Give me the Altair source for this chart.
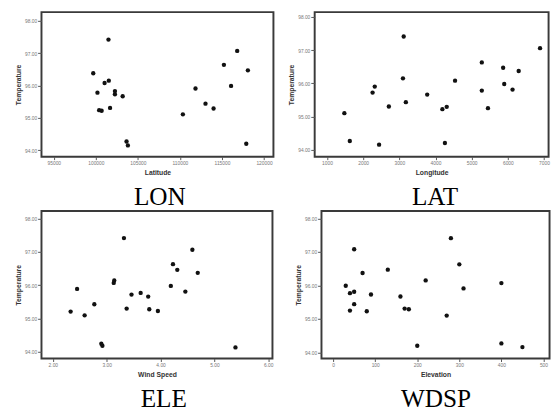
import altair as alt
import pandas as pd

temp_ticks = [94, 95, 96, 97, 98]

# Panel "LON" (x axis titled Latitude)
lat_vals = [99690, 100190, 100390, 100690, 101040, 101540, 101500, 101690, 102270, 102270, 103190,
            103650, 103810, 110350, 111850, 113040, 114000, 115230, 116080, 116810, 117890, 118080]
lat_temp = [96.38, 95.78, 95.24, 95.22, 96.08, 96.15, 97.42, 95.31, 95.83, 95.73, 95.67,
            94.27, 94.15, 95.11, 95.91, 95.44, 95.29, 96.64, 95.99, 97.07, 94.20, 96.47]
lat_ticks = [95000, 100000, 105000, 110000, 115000, 120000]

# Panel "LAT" (x axis titled Longitude)
lon_vals = [1480, 1630, 2260, 2320, 2440, 2710, 3100, 3120, 3180, 3770, 4190,
            4260, 4310, 4540, 5280, 5280, 5450, 5870, 5900, 6130, 6300, 6890]
lon_temp = [95.10, 94.26, 95.72, 95.90, 94.15, 95.30, 96.15, 97.41, 95.43, 95.66, 95.22,
            94.20, 95.29, 96.08, 96.63, 95.78, 95.25, 96.47, 95.98, 95.81, 96.37, 97.06]
lon_ticks = [1000, 2000, 3000, 4000, 5000, 6000, 7000]

# Panel "ELE" (x axis titled Wind Speed)
ws_vals = [2.33, 2.45, 2.59, 2.77, 2.90, 2.92, 3.13, 3.14, 3.32, 3.37, 3.46,
           3.63, 3.77, 3.79, 3.95, 4.19, 4.23, 4.31, 4.46, 4.59, 4.69, 5.39]
ws_temp = [95.21, 95.89, 95.10, 95.43, 94.25, 94.19, 96.07, 96.14, 97.41, 95.30, 95.72,
           95.77, 95.66, 95.28, 95.23, 95.98, 96.63, 96.46, 95.81, 97.06, 96.37, 94.14]
ws_ticks = [2, 3, 4, 5, 6]

# Panel "WDSP" (x axis titled Elevation)
elev_vals = [30, 40, 40, 50, 50, 50, 70, 80, 90, 130, 160,
             170, 180, 200, 220, 270, 280, 300, 310, 400, 400, 450]
elev_temp = [95.99, 95.77, 95.25, 97.08, 95.81, 95.44, 96.37, 95.23, 95.73, 96.47, 95.67,
             95.31, 95.29, 94.20, 96.15, 95.10, 97.41, 96.63, 95.91, 96.07, 94.27, 94.16]
elev_ticks = [0, 100, 200, 300, 400, 500]


def panel(xs, ts, xtitle, xdom, xticks, xfmt, ydom, w, h, caption, dx):
    df = pd.DataFrame({"x": xs, "t": ts})
    pts = alt.Chart(df).mark_circle(size=20, color="#111111", opacity=1).encode(
        x=alt.X("x:Q", scale=alt.Scale(domain=xdom, nice=False, zero=False),
                axis=alt.Axis(title=xtitle, values=xticks, format=xfmt)),
        y=alt.Y("t:Q", scale=alt.Scale(domain=ydom, nice=False, zero=False),
                axis=alt.Axis(title="Temperature", values=temp_ticks, format=".2f")),
    )
    title = alt.TitleParams(caption, orient="bottom", frame="group", dx=dx)
    return pts.properties(width=w, height=h, title=title)


p1 = panel(lat_vals, lat_temp, "Latitude", [93534, 121120], lat_ticks, "d",
           [93.8, 98.27], 239, 149, "LON", 2.5)
p2 = panel(lon_vals, lon_temp, "Longitude", [659, 7126], lon_ticks, "d",
           [93.786, 98.146], 241, 149, "LAT", 3.5)
p3 = panel(ws_vals, ws_temp, "Wind Speed", [1.789, 6.077], ws_ticks, ".2f",
           [93.805, 98.218], 238, 152, "ELE", 7)
p4 = panel(elev_vals, elev_temp, "Elevation", [-27.7, 514.5], elev_ticks, "d",
           [93.817, 98.218], 235, 152, "WDSP", 0.5)

row1 = alt.hconcat(p1, p2, spacing=12.5)
row2 = alt.hconcat(p3, p4, spacing=19.5)

chart = alt.vconcat(row1, row2, spacing=-1.5).properties(
    padding={"left": 5.5, "top": -3, "right": 0, "bottom": 0},
    background="white",
).configure_view(
    stroke="#3a3a3a", strokeWidth=2
).configure_axis(
    domain=False, grid=False, tickColor="#555555", tickWidth=1,
    labelFont="Liberation Sans", labelFontSize=5, labelColor="#777777",
    titleFont="Liberation Sans", titleFontSize=7, titleFontWeight="bold", titleColor="#333333",
).configure_axisY(
    tickSize=4, labelPadding=1, titlePadding=3
).configure_axisX(
    tickSize=3, labelPadding=1, titlePadding=3
).configure_title(
    font="Liberation Serif", fontSize=26, fontWeight="normal", color="#000000", offset=10
)

chart.save("out.html", embed_options={"renderer": "svg", "actions": False})
